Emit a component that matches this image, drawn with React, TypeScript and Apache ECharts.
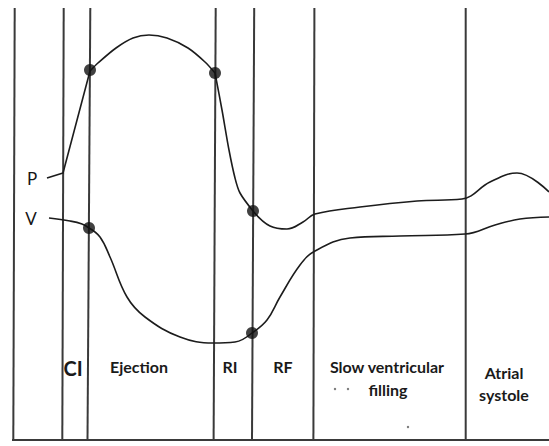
import React, { useEffect, useRef } from "react";
import * as echarts from "echarts";

// Phase boundary lines: x at top and x at bottom (drawing is slightly slanted)
const boundaryTopX = [14.7, 63.7, 90.3, 215.7, 254.2, 314.4, 465.7];
const boundaryBottomX = [13.3, 62.3, 87.5, 213.6, 252, 313.4, 465.7];
const boundaryTopY = 8;
const boundaryBottomY = 440;

// Pressure (P) trace segments
const pressureLead: number[][] = [[47, 178], [63, 173], [90, 71]];
const pressureArc: number[][] = [
  [90, 71], [98, 63], [116, 48], [133, 38], [149, 35], [167, 38], [188, 48], [205, 62], [215, 73],
];
const pressureFall: number[][] = [[215, 73], [222, 110], [229, 150], [235, 178], [240, 193], [253, 211]];
const pressureTail: number[][] = [
  [253, 211], [270, 226], [287, 229], [303, 222], [315, 214],
  [360, 207], [417, 201], [462, 199], [490, 182], [517, 173],
  [549, 192],
];

// Volume (V) trace segments
const volumeLead: number[][] = [[49, 218], [70, 221], [82, 224], [89, 228]];
const volumeFall: number[][] = [
  [89, 228], [100, 237], [110, 257], [127, 297], [145, 317],
  [180, 337], [213, 343], [235, 342], [252, 333],
];
const volumeRise: number[][] = [
  [252, 333], [267, 320], [280, 297], [300, 265], [315, 251],
  [350, 238], [400, 236], [465, 234], [495, 225],
  [520, 219], [549, 217],
];

// Valve events (dots)
const eventPoints: number[][] = [[90, 70], [215, 73], [253, 211], [89, 228], [252, 333]];

// Phase labels
const phaseLabels = ["CI", "Ejection", "RI", "RF", "Slow ventricular", "filling", "Atrial", "systole"];
const phaseLabelX = [73, 139, 230, 283, 387, 388, 504, 504];
const phaseLabelY = [368, 366, 366, 366, 366, 389, 372, 394];
const phaseLabelSize = [20, 16, 16, 16, 16, 16, 16, 16];

const traceLabels = ["P", "V"];
const traceLabelX = [32, 31];
const traceLabelY = [178, 218];

export default function App() {
  const ref = useRef<HTMLDivElement>(null);
  useEffect(() => {
    if (!ref.current) return;
    const chart = echarts.init(ref.current, null, { renderer: "svg" });
    const lineStyle = { color: "#1c1c1c", width: 1.6 };
    const trace = (data: number[][], smooth: number | boolean) => ({
      type: "line",
      data,
      smooth,
      symbol: "none",
      lineStyle,
      silent: true,
      z: 3,
    });
    const boundaries = boundaryTopX.map((tx, i) => ({
      type: "line",
      data: [[tx, boundaryTopY], [boundaryBottomX[i], boundaryBottomY]],
      symbol: "none",
      lineStyle: { color: "#3a3a3a", width: 2 },
      silent: true,
      z: 2,
    }));
    const fontFamily = "Lato, 'Open Sans', sans-serif";
    const texts: any[] = phaseLabels.map((t, i) => ({
      type: "text",
      x: phaseLabelX[i],
      y: phaseLabelY[i],
      style: {
        text: t,
        fill: "#1a1a1a",
        font: `bold ${phaseLabelSize[i]}px ${fontFamily}`,
        textAlign: "center",
        textVerticalAlign: "middle",
      },
      z: 10,
    }));
    traceLabels.forEach((t, i) =>
      texts.push({
        type: "text",
        x: traceLabelX[i],
        y: traceLabelY[i],
        style: {
          text: t,
          fill: "#151515",
          font: `17px ${fontFamily}`,
          textAlign: "center",
          textVerticalAlign: "middle",
        },
        z: 10,
      })
    );
    // small stray marks
    [[335, 389], [348, 389], [408, 427]].forEach(([x, y]) =>
      texts.push({ type: "circle", shape: { cx: x, cy: y, r: 1.2 }, style: { fill: "#777" }, z: 10 })
    );
    chart.setOption({
      animation: false,
      backgroundColor: "#ffffff",
      grid: { left: 0, right: 0, top: 0, bottom: 0 },
      xAxis: { type: "value", min: 0, max: 549, show: false },
      yAxis: { type: "value", min: 0, max: 446, inverse: true, show: false },
      graphic: texts,
      series: [
        ...boundaries,
        {
          type: "line",
          data: [[12, boundaryBottomY], [549, boundaryBottomY]],
          symbol: "none",
          lineStyle: { color: "#3a3a3a", width: 2 },
          silent: true,
        },
        trace(pressureLead, false),
        trace(pressureArc, 0.3),
        trace(pressureFall, 0.3),
        trace(pressureTail, 0.4),
        trace(volumeLead, 0.4),
        trace(volumeFall, 0.4),
        trace(volumeRise, 0.4),
        {
          type: "scatter",
          data: eventPoints,
          symbol: "circle",
          symbolSize: 12,
          itemStyle: { color: "#111" },
          silent: true,
          z: 5,
        },
      ],
    });
    return () => chart.dispose();
  }, []);
  return (
    <div
      ref={ref}
      style={{ position: "fixed", left: 0, top: 0, width: 549, height: 446, background: "#fff" }}
    />
  );
}
